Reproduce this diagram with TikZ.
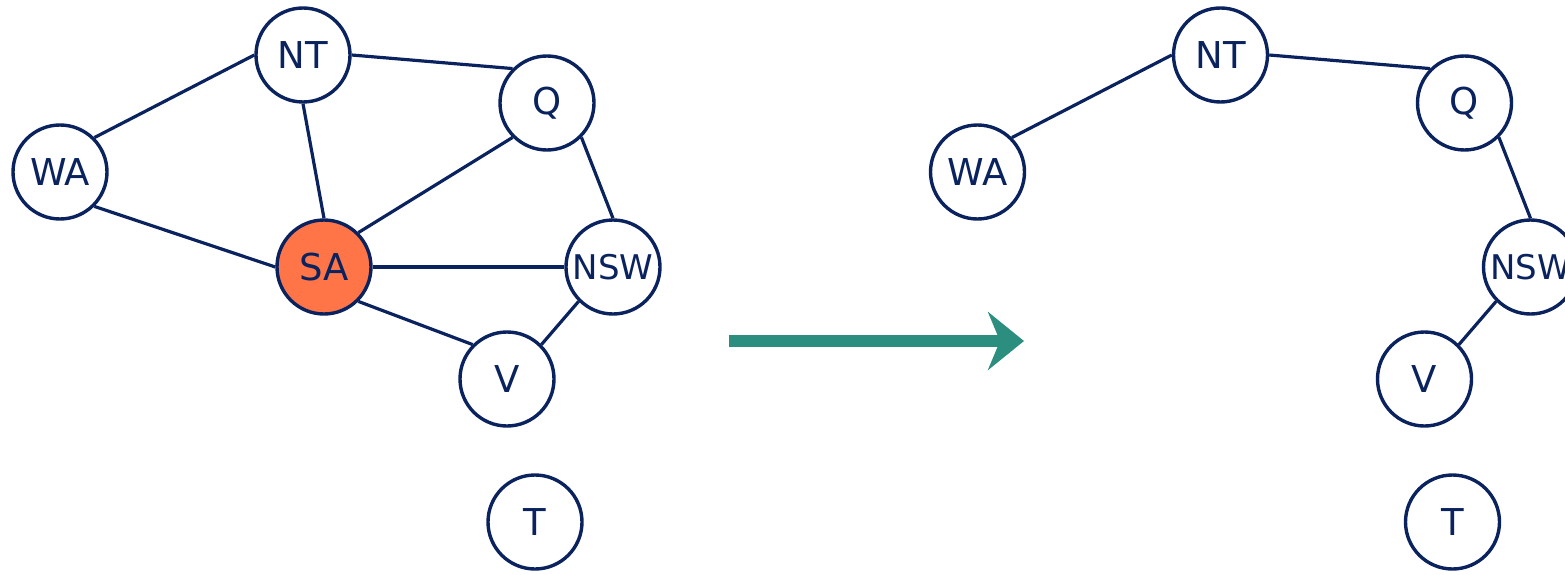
\documentclass[tikz,border=0pt]{standalone}
\usepackage{fontspec}
\setsansfont{DejaVu Sans}
\usepackage{xcolor}
\usepackage{tikz}
\usetikzlibrary{arrows.meta}
\definecolor{navy}{RGB}{10,35,95}
\definecolor{sacolor}{RGB}{255,117,72}
\definecolor{teal}{RGB}{43,142,126}
\tikzset{
    region/.style={circle, draw=navy, line width=3.4pt, fill=white, minimum size=94pt, inner sep=0pt, text=navy, font=\sffamily\fontsize{37}{37}\selectfont},
    border/.style={draw=navy, line width=3.2pt}
}

\begin{document}
\begin{tikzpicture}[x=1pt, y=-1pt]
    \useasboundingbox (0,0) rectangle (1565,575);
    \clip (0,0) rectangle (1565,575);

    % before
    \node (nt) [region] at (303,55) {NT};
    \node (q) [region] at (547,103) {Q};
    \node (wa) [region] at (60,172) {WA};
    \node (sa) [region, fill=sacolor] at (324,267) {SA};
    \node (nsw) [region, font=\sffamily\fontsize{34}{34}\selectfont] at (613,267) {NSW};
    \node (v) [region] at (507,379) {V};
    \node (t) [region] at (535,522) {T};

    \draw [border] (wa.north east) -- (nt.west);
    \draw [border] (wa.south east) -- (sa.west);
    \draw [border] (nt.south) -- (sa.north);
    \draw [border] (nt.east) -- (q.north west);
    \draw [border] (q.south west) -- (sa.north east);
    \draw [border] (q.south east) -- (nsw.north);
    \draw [border] (sa.east) -- (nsw.west);
    \draw [border] (sa.south east) -- (v.north west);
    \draw [border] (nsw.south west) -- (v.north east);

    % step
    \coordinate (from) at (729,341);
    \coordinate (to) at (1024,341);
    \draw [teal, line width=12pt, -{Stealth[length=36pt, width=58pt, inset=12pt]}] (from) -- (to);

    % after
    \begin{scope}[xshift=917.5pt]
    \node (nt2) [region] at (303,55) {NT};
    \node (q2) [region] at (547,103) {Q};
    \node (wa2) [region] at (60,172) {WA};
    \node (nsw2) [region, font=\sffamily\fontsize{34}{34}\selectfont] at (613,267) {NSW};
    \node (v2) [region] at (507,379) {V};
    \node (t2) [region] at (535,522) {T};
    \end{scope}

    \draw [border] (wa2.north east) -- (nt2.west);
    \draw [border] (nt2.east) -- (q2.north west);
    \draw [border] (q2.south east) -- (nsw2.north);
    \draw [border] (nsw2.south west) -- (v2.north east);
\end{tikzpicture}
\end{document}
